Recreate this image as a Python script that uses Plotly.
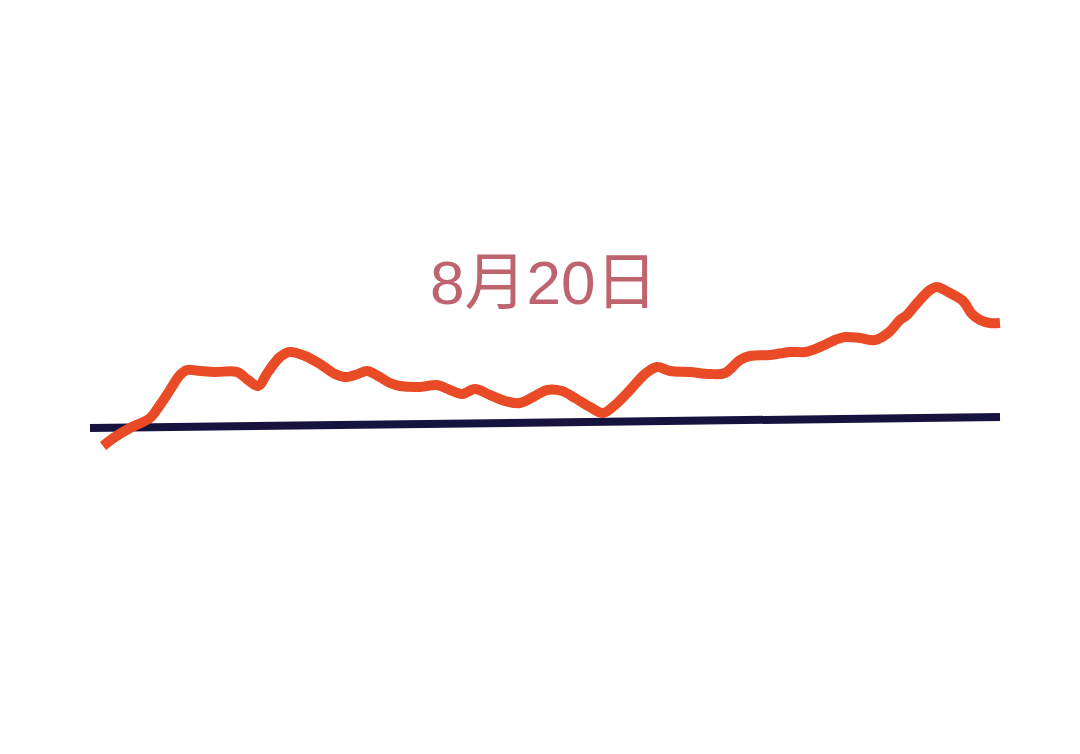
import plotly.graph_objects as go

# Orange series: horizontal position and level (pixel-like units)
orange_x = [103, 115, 130, 150, 160, 170, 180, 187, 200, 215, 237, 248, 258, 268, 280, 290,
            305, 320, 335, 345, 358, 367, 378, 390, 400, 420, 437, 450, 462, 475, 490, 505,
            520, 535, 547, 562, 575, 590, 603, 615, 630, 645, 657, 670, 690, 710, 725, 740,
            750, 770, 790, 805, 820, 835, 845, 860, 875, 888, 900, 907, 918, 930, 937, 948,
            963, 972, 980, 990, 1000]
orange_ypx = [446, 437, 428, 418, 405, 390, 375, 370, 371, 372, 372, 380, 386, 372, 357, 352,
              356, 364, 374, 377, 374, 371, 376, 383, 386, 387, 385, 390, 394, 389, 395, 401,
              403, 396, 390, 391, 398, 407, 413, 405, 390, 374, 367, 371, 372, 374, 373, 360,
              356, 355, 352, 352, 347, 340, 337, 338, 340, 333, 320, 315, 302, 290, 287, 292,
              301, 314, 320, 323, 323]
H = 754
orange_y = [H - v for v in orange_ypx]

# Navy baseline
navy_x = [90, 1000]
navy_y = [H - 428, H - 417]

label_text = "8月20日"

fig = go.Figure()
fig.add_trace(go.Scatter(x=navy_x, y=navy_y, mode="lines",
                         line=dict(color="#17133F", width=8), hoverinfo="skip"))
fig.add_trace(go.Scatter(x=orange_x, y=orange_y, mode="lines",
                         line=dict(color="#E84B26", width=10, shape="spline", smoothing=1.0),
                         hoverinfo="skip"))
fig.add_annotation(x=543, y=H - 282, text=label_text, showarrow=False,
                   font=dict(family="Liberation Sans, Noto Sans CJK SC", size=62, color="#BE646E"),
                   xanchor="center", yanchor="middle")
fig.update_layout(
    width=1064, height=738,
    margin=dict(l=0, r=0, t=0, b=0),
    paper_bgcolor="white", plot_bgcolor="white",
    showlegend=False,
    xaxis=dict(range=[8, 1072], visible=False, fixedrange=True),
    yaxis=dict(range=[8, 746], visible=False, fixedrange=True),
)
fig.write_html("out.html")
